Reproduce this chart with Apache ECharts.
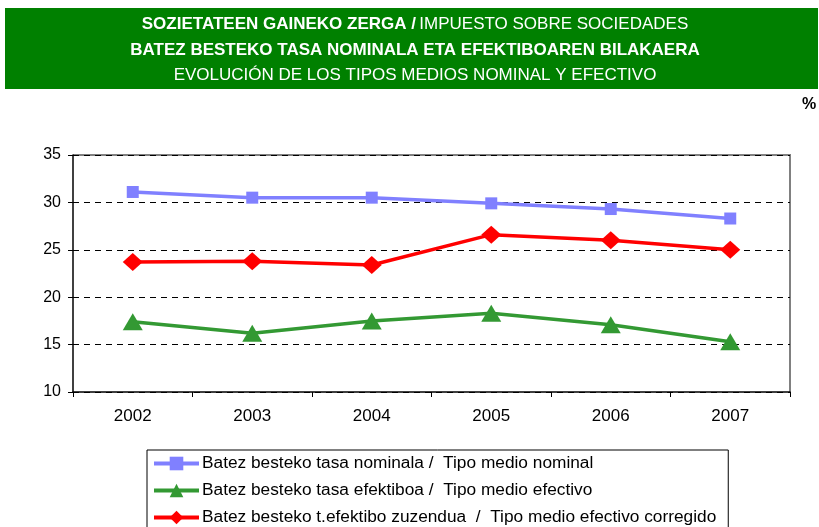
<!DOCTYPE html>
<html><head><meta charset="utf-8">
<script src="https://cdn.jsdelivr.net/npm/echarts@6/dist/echarts.min.js"></script>
<style>html,body{margin:0;padding:0;background:#fff}#c{width:819px;height:527px}</style>
</head><body><div id="c"></div>
<script>
const categories = ['2002','2003','2004','2005','2006','2007'];
const nominal = [31.1, 30.5, 30.5, 29.9, 29.3, 28.3];
const efectivo = [17.4, 16.2, 17.5, 18.3, 17.1, 15.3];
const corregido = [23.7, 23.8, 23.4, 26.6, 26.0, 25.0];
const names = ['Batez besteko tasa nominala /  Tipo medio nominal',
               'Batez besteko tasa efektiboa /  Tipo medio efectivo',
               'Batez besteko t.efektibo zuzendua  /  Tipo medio efectivo corregido'];
const F = 'Arial, "Liberation Sans", sans-serif';
const chart = echarts.init(document.getElementById('c'));
chart.setOption({
  animation:false,
  textStyle:{fontFamily:F},
  graphic:[
    {type:'rect', shape:{x:5,y:8,width:813,height:81}, style:{fill:'#008000'}, silent:true},
    {type:'text', x:415, y:24, style:{text:'{b|SOZIETATEEN GAINEKO ZERGA /} {n|IMPUESTO SOBRE SOCIEDADES}', align:'center', verticalAlign:'middle',
      rich:{b:{fontWeight:'bold',fontSize:17,fill:'#fff',fontFamily:F},n:{fontSize:17,fill:'#fff',fontFamily:F}}}},
    {type:'text', x:415, y:50, style:{text:'BATEZ BESTEKO TASA NOMINALA ETA EFEKTIBOAREN BILAKAERA', align:'center', verticalAlign:'middle', fontWeight:'bold', fontSize:17, fill:'#fff', fontFamily:F}},
    {type:'text', x:415, y:75, style:{text:'EVOLUCIÓN DE LOS TIPOS MEDIOS NOMINAL Y EFECTIVO', align:'center', verticalAlign:'middle', fontSize:17, fill:'#fff', fontFamily:F}},
    {type:'text', x:809, y:105, style:{text:'%', align:'center', verticalAlign:'middle', fontWeight:'bold', fontSize:16, fill:'#000', fontFamily:F}},
    {type:'polyline', shape:{points:[[73,155],[790,155],[790,392]]}, style:{stroke:'#808080', lineWidth:2, fill:null}, silent:true}
  ],
  grid:{left:73, right:29, top:155, bottom:135},
  xAxis:{type:'category', data:categories, boundaryGap:true,
    axisLine:{lineStyle:{color:'#000',width:1.5}},
    axisTick:{show:true, alignWithLabel:false, length:5, lineStyle:{color:'#000'}},
    axisLabel:{color:'#000', fontSize:17, margin:16, fontFamily:F}},
  yAxis:{type:'value', min:10, max:35, interval:5,
    axisLine:{show:true, lineStyle:{color:'#000',width:1.5}},
    axisTick:{show:true, length:5, lineStyle:{color:'#000'}},
    axisLabel:{color:'#000', fontSize:16, margin:12, fontFamily:F},
    splitLine:{show:true, lineStyle:{color:'#000', type:[6,5], width:1}}},
  legend:{orient:'vertical', left:147, top:450, height:300, itemWidth:45, itemHeight:17, itemGap:10,
    padding:[5,12,5,5], borderColor:'#000', borderWidth:1, lineStyle:{width:4},
    textStyle:{fontSize:17.3, color:'#000', fontFamily:F, padding:[0,0,0,-2]}, data:names},
  series:[
    {name:names[0], type:'line', data:nominal, symbol:'rect', symbolSize:12,
      lineStyle:{color:'#8080ff', width:3.5}, itemStyle:{color:'#8080ff'}},
    {name:names[1], type:'line', data:efectivo, symbol:'triangle', symbolSize:[20,17],
      lineStyle:{color:'#339933', width:3.5}, itemStyle:{color:'#339933'}},
    {name:names[2], type:'line', data:corregido, symbol:'diamond', symbolSize:[20,18],
      lineStyle:{color:'#ff0000', width:3.5}, itemStyle:{color:'#ff0000'}}
  ]
});
</script></body></html>
